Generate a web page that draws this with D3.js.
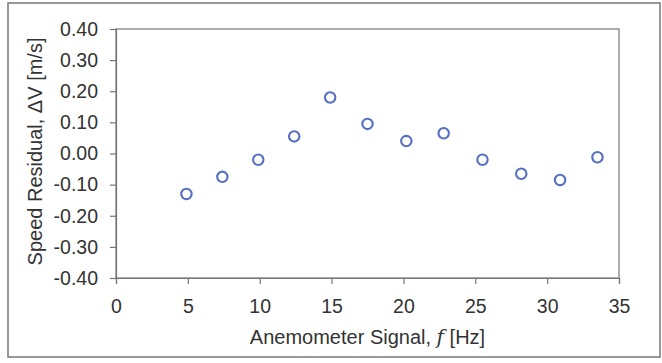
<!DOCTYPE html>
<html>
<head>
<meta charset="utf-8">
<script src="https://cdn.jsdelivr.net/npm/d3@7"></script>
<style>
  body { margin: 0; background: #fff; }
  svg { display: block; }
  text { font-family: "Liberation Sans", Arial, sans-serif; fill: #333; }
</style>
</head>
<body>
<div id="chart"></div>
<script>
// anemometer signal [Hz] vs speed residual [m/s]
const freq = [4.9, 7.4, 9.9, 12.4, 14.9, 17.5, 20.2, 22.8, 25.5, 28.2, 30.9, 33.5]
const residual = [-0.13, -0.075, -0.02, 0.055, 0.18, 0.095, 0.04, 0.065, -0.02, -0.065, -0.085, -0.012]

const xTicks = [0, 5, 10, 15, 20, 25, 30, 35]
const yTicks = [-0.4, -0.3, -0.2, -0.1, 0, 0.1, 0.2, 0.3, 0.4]

const width = 662
const height = 363
const margin = { top: 29, right: 43, bottom: 85, left: 116 }
const w = width - margin.left - margin.right
const h = height - margin.top - margin.bottom

const svg = d3.select("#chart")
  .append("svg")
    .attr("width", width)
    .attr("height", height)

// outer frame
svg.append("rect")
  .attr("x", 8).attr("y", 3)
  .attr("width", 652).attr("height", 354)
  .attr("fill", "none")
  .attr("stroke", "#777")
  .attr("stroke-width", 1.5)

const g = svg.append("g")
  .attr("transform", "translate(" + margin.left + "," + margin.top + ")")

const x = d3.scaleLinear().domain([0, 35]).range([0, w])
const y = d3.scaleLinear().domain([-0.4, 0.4]).range([h, 0])

// plot box
g.append("rect")
  .attr("width", w).attr("height", h)
  .attr("fill", "none")
  .attr("stroke", "#777")
  .attr("stroke-width", 1.2)

const fmt = d => d3.format(".2f")(d).replace("\u2212", "-")

const xAxis = g.append("g")
  .attr("transform", "translate(0," + h + ")")
  .call(d3.axisBottom(x).tickValues(xTicks).tickSize(6).tickPadding(15))
const yAxis = g.append("g")
  .call(d3.axisLeft(y).tickValues(yTicks).tickFormat(fmt).tickSize(6).tickPadding(12))

for (const ax of [xAxis, yAxis]) {
  ax.select(".domain").attr("stroke", "#777").attr("stroke-width", 1.2)
  ax.selectAll(".tick line").attr("stroke", "#777").attr("stroke-width", 1.2)
  ax.selectAll(".tick text")
    .attr("fill", "#2b2b2b")
    .style("font-family", "'Liberation Sans', Arial, sans-serif")
    .style("font-size", "19.5px")
}

// points
g.selectAll("circle.pt")
  .data(freq)
  .join("circle")
    .attr("class", "pt")
    .attr("cx", d => x(d))
    .attr("cy", (d, i) => y(residual[i]))
    .attr("r", 5.2)
    .attr("fill", "none")
    .attr("stroke", "#566fc2")
    .attr("stroke-width", 2.1)

// axis titles
const xt = svg.append("text")
  .attr("x", margin.left + w / 2)
  .attr("y", 344)
  .attr("text-anchor", "middle")
  .style("font-size", "20px")
xt.append("tspan").text("Anemometer Signal, ")
xt.append("tspan").text("f").style("font-family", "'DejaVu Serif', serif").style("font-style", "italic")
xt.append("tspan").text(" [Hz]")

svg.append("text")
  .attr("transform", "translate(42," + (margin.top + h / 2 - 2) + ") rotate(-90)")
  .attr("text-anchor", "middle")
  .style("font-size", "20px")
  .text("Speed Residual, \u0394V [m/s]")
</script>
</body>
</html>
